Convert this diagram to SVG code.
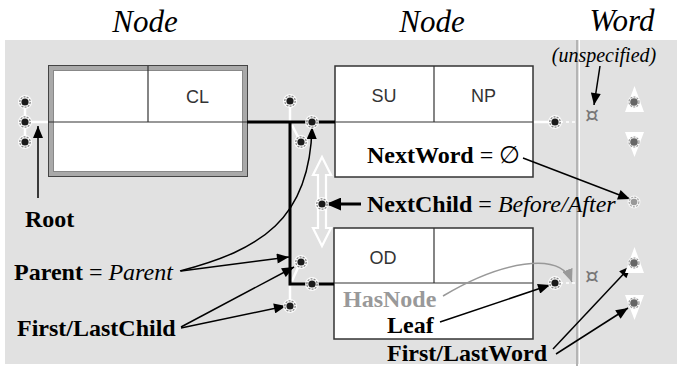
<svg xmlns="http://www.w3.org/2000/svg" xmlns:xlink="http://www.w3.org/1999/xlink" width="677" height="366" viewBox="0 0 677 366">
<style>
.hdr{font-family:"Liberation Serif","Times New Roman",serif;font-style:italic;font-size:31px;fill:#000;text-anchor:middle}
.lbl{font-family:"Liberation Serif","Times New Roman",serif;font-weight:bold;font-size:24px;fill:#000}
.eq{font-weight:normal}
.it{font-weight:normal;font-style:italic}
.cell{font-family:"Liberation Sans",Arial,sans-serif;font-size:18px;fill:#333;text-anchor:middle}
.box{fill:#fff;stroke:#333;stroke-width:1.5}
.div{stroke:#333;stroke-width:1.2}
.wl{stroke:#fff;stroke-width:2.5;fill:none}
.wd{stroke:#fff;stroke-width:1.5;stroke-dasharray:3 3;fill:none}
.bk{stroke:#000;stroke-width:3;fill:none}
.ar{stroke:#000;stroke-width:1.5;fill:none;marker-end:url(#ah)}
.sym{font-family:"DejaVu Sans",sans-serif;font-size:22px;fill:#777;text-anchor:middle}
</style>
<defs>
<marker id="ah" viewBox="0 0 12 10" refX="12" refY="5" markerWidth="13" markerHeight="10" markerUnits="userSpaceOnUse" orient="auto"><path d="M0,0 L12,5 L0,10 z" fill="#000"/></marker>
<marker id="ahg" viewBox="0 0 12 10" refX="12" refY="5" markerWidth="13" markerHeight="11" markerUnits="userSpaceOnUse" orient="auto"><path d="M0,0 L12,5 L0,10 z" fill="#999"/></marker>
<marker id="ahb" viewBox="0 0 14 12" refX="14" refY="6" markerWidth="15" markerHeight="13" markerUnits="userSpaceOnUse" orient="auto"><path d="M0,0 L14,6 L0,12 z" fill="#000"/></marker>
<g id="dot"><circle r="7" fill="#fff" fill-opacity="0.85"/><circle r="5.2" fill="none" stroke="#888" stroke-width="1.3" stroke-dasharray="2 1.2"/><circle r="3.6" fill="#1a1a1a"/></g>
<g id="gdot"><circle r="6.5" fill="#fff" fill-opacity="0.6"/><circle r="5" fill="none" stroke="#999" stroke-width="1.2" stroke-dasharray="2 1.2"/><circle r="3.8" fill="#666"/></g>
<g id="ldot"><circle r="6.5" fill="#fff" fill-opacity="0.7"/><circle r="4.8" fill="none" stroke="#aaa" stroke-width="1.2" stroke-dasharray="2 1.2"/><circle r="3.3" fill="#999"/></g>
</defs>
<rect width="677" height="366" fill="#fff"/>
<rect x="5" y="40" width="672" height="324" fill="#e1e1e1"/>
<line x1="577" y1="40" x2="577" y2="366" stroke="#b4b4b4" stroke-width="2"/>
<line x1="579.5" y1="40" x2="579.5" y2="366" stroke="#fff" stroke-width="1"/>

<text class="hdr" x="145" y="32">Node</text>
<text class="hdr" x="432" y="32">Node</text>
<text class="hdr" x="622" y="31">Word</text>

<g id="node-root">
<rect x="48.5" y="65.5" width="199" height="111" fill="#a9a9a9" stroke="#444" stroke-width="1"/>
<rect x="53.5" y="70.5" width="189" height="101" fill="#fff" stroke="#888" stroke-width="1"/>
<line class="div" x1="48" y1="122" x2="247" y2="122"/>
<line class="div" x1="148" y1="66" x2="148" y2="122"/>
<text class="cell" x="197.5" y="103">CL</text>
</g>

<g id="node-su">
<rect class="box" x="335" y="66" width="198" height="111"/>
<line class="div" x1="335" y1="122" x2="533" y2="122"/>
<line class="div" x1="434" y1="66" x2="434" y2="122"/>
<text class="cell" x="384" y="102">SU</text>
<text class="cell" x="483.5" y="102">NP</text>
<text class="lbl" x="367" y="163">NextWord<tspan class="eq"> = ∅</tspan></text>
</g>

<g id="node-od">
<rect class="box" x="334" y="228" width="199" height="111"/>
<line class="div" x1="334" y1="283" x2="533" y2="283"/>
<line class="div" x1="434" y1="228" x2="434" y2="283"/>
<text class="cell" x="383" y="264">OD</text>
<text class="lbl" x="343" y="307" style="fill:#999">HasNode</text>
<text class="lbl" x="387" y="333">Leaf</text>
</g>

<g id="connectors">
<line class="wl" x1="25" y1="101" x2="25" y2="142"/>
<line class="wl" x1="25" y1="122" x2="48" y2="122"/>
<line class="wl" x1="290" y1="101" x2="290" y2="121"/>
<line class="wl" x1="292" y1="125" x2="300" y2="141"/>
<line class="wl" x1="300" y1="263" x2="292" y2="281"/>
<line class="wl" x1="290" y1="286" x2="290" y2="305"/>
<line class="wl" x1="534" y1="122" x2="553" y2="122"/>
<line class="wd" x1="560" y1="122" x2="577" y2="122"/>
<line class="wd" x1="560" y1="283" x2="577" y2="283"/>
<polyline class="bk" points="247,122 335,122"/>
<polyline class="bk" points="290,122 290,284 334,284"/>
<path d="M322,157 L331,175 L326,175 L326,228 L331,228 L322,246 L313,228 L318,228 L318,175 L313,175 Z" fill="none" stroke="#fff" stroke-width="2.2" stroke-linejoin="miter"/>
<line x1="38" y1="198" x2="38" y2="126" class="ar"/>
<path class="ar" d="M180,271 C260,250 310,220 312,127"/>
<line class="ar" x1="181" y1="271" x2="289" y2="257"/>
<line class="ar" x1="181" y1="327" x2="294" y2="267"/>
<line class="ar" x1="181" y1="328" x2="286" y2="306"/>
<line x1="361" y1="204" x2="326" y2="204" stroke="#000" stroke-width="3" marker-end="url(#ahb)"/>
<line class="ar" x1="523" y1="158" x2="630" y2="199"/>
<line class="ar" x1="600" y1="66" x2="594" y2="105"/>
<path d="M443,296 C500,262 560,250 572,282" fill="none" stroke="#999" stroke-width="1.5" marker-end="url(#ahg)"/>
<line class="ar" x1="440" y1="322" x2="550" y2="285"/>
<line class="ar" x1="553" y1="349" x2="631" y2="266"/>
<line class="ar" x1="556" y1="354" x2="628" y2="308"/>
</g>

<g id="word">
<text x="604" y="62" style="font-family:'Liberation Serif','Times New Roman',serif;font-style:italic;font-size:20px;text-anchor:middle">(unspecified)</text>
<text class="sym" x="592" y="122">¤</text>
<text class="sym" x="592" y="283">¤</text>
<polygon points="634.5,86 644,112 625,112" fill="#fff"/>
<polygon points="625,132 644,132 634.5,157" fill="#fff"/>
<polygon points="634.5,247 644,273 625,273" fill="#fff"/>
<polygon points="625,295 644,295 634.5,320" fill="#fff"/>
<use xlink:href="#gdot" x="634" y="102"/>
<use xlink:href="#gdot" x="634" y="142"/>
<use xlink:href="#gdot" x="634" y="263"/>
<use xlink:href="#gdot" x="634" y="303"/>
<use xlink:href="#ldot" x="634" y="202"/>
</g>

<g id="pointers">
<use xlink:href="#dot" x="25" y="102"/>
<use xlink:href="#dot" x="25" y="122"/>
<use xlink:href="#dot" x="25" y="142"/>
<use xlink:href="#dot" x="290" y="101"/>
<use xlink:href="#dot" x="312" y="122"/>
<use xlink:href="#dot" x="301" y="142"/>
<use xlink:href="#dot" x="322" y="204"/>
<use xlink:href="#dot" x="301" y="262"/>
<use xlink:href="#dot" x="312" y="284"/>
<use xlink:href="#dot" x="290" y="306"/>
<use xlink:href="#dot" x="555" y="122"/>
<use xlink:href="#dot" x="555" y="283"/>
</g>

<g id="labels">
<text class="lbl" x="25" y="227">Root</text>
<text class="lbl" x="14" y="280">Parent<tspan class="eq"> = </tspan><tspan class="it">Parent</tspan></text>
<text class="lbl" x="17" y="336">First/LastChild</text>
<text class="lbl" x="367" y="212">NextChild<tspan class="eq"> = </tspan><tspan class="it">Before/After</tspan></text>
<text class="lbl" x="387" y="361">First/LastWord</text>
</g>
</svg>
